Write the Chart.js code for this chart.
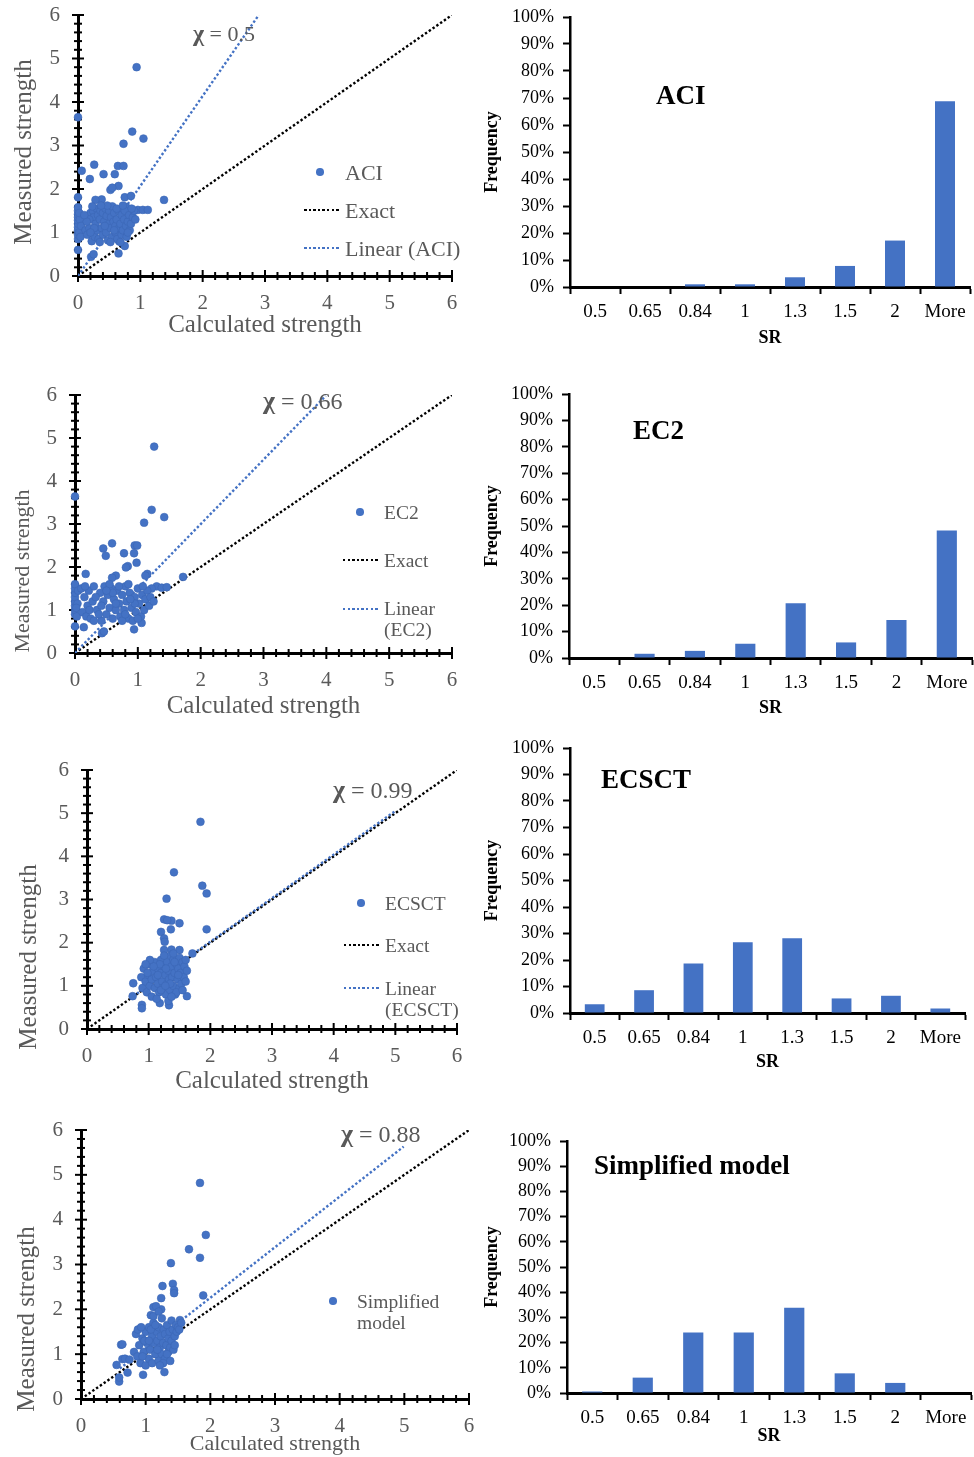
<!DOCTYPE html>
<html>
<head>
<meta charset="utf-8">
<script src="https://cdn.jsdelivr.net/npm/chart.js@4.4.0/dist/chart.umd.min.js"></script>
<style>
  html, body { margin:0; padding:0; background:#fff; }
  body { width:974px; height:1457px; position:relative; overflow:hidden; font-family:"Liberation Serif","Times New Roman",serif; }
  .box { position:absolute; }
  .t { position:absolute; white-space:nowrap; line-height:1; }
</style>
</head>
<body>
<script>
// ---------------- DATA ----------------
const srLabels = ['0.5','0.65','0.84','1','1.3','1.5','2','More'];
const aciFreq    = [0, 0, 1.0, 1.0, 3.6, 7.8, 17.2, 68.8];
const ec2Freq    = [0, 1.6, 2.7, 5.4, 20.7, 5.9, 14.4, 48.3];
const ecsctFreq  = [3.3, 8.6, 18.7, 26.7, 28.2, 5.5, 6.5, 1.7];
const simpFreq   = [0.6, 6.1, 24, 24, 33.8, 7.8, 4, 0];

const scatterTicks = [0,1,2,3,4,5,6];
const exactLine = [[0,0],[6,6]];
const aciTrend   = [[0,0],[2.9,6]];
const ec2Trend   = [[0,0],[3.99,5.98]];
const ecsctTrend = [[0.75,0.76],[5.0,5.05]];
const simpTrend  = [[0.6,0.68],[4.99,5.63]];
const chiValues  = ['0.5','0.66','0.99','0.88'];

const aciPts = [
 [0.94,4.80],[0,3.65],[0.87,3.32],[1.05,3.16],[0.73,3.04],[0.26,2.56],[0.64,2.53],[0.73,2.53],[0.06,2.42],[0.41,2.34],
 [0.59,2.34],[0.19,2.23],[0.65,2.07],[0.52,1.98],[0.55,2.03],[0,1.81],[0.75,1.81],[0.85,1.84],[1.38,1.75],[0.38,1.76],
 [0.28,1.75],[0.77,1.59],[0.96,1.52],[1.04,1.52],[1.12,1.52],[0,0.6],[0.21,0.44],[0.25,0.5],[0.65,0.52],[0.75,0.69],[0.66,0.8],
 [0,0.85],[0,0.95],[0,1.05],[0,1.12],[0,1.2],[0,1.28],[0,1.35],[0,1.42],[0,1.5],[0,1.58],[0.02,1.0],[0.03,1.3],[0.02,1.45],[0.04,0.9],[0.05,1.15],
 [0.12,1.05],[0.15,0.95],[0.18,1.1],[0.2,1.45],[0.22,0.8],[0.24,1.5],[0.25,1.35],[0.27,0.9],[0.28,1.2],[0.3,1.55],
 [0.3,1.05],[0.32,1.4],[0.33,0.85],[0.35,1.3],[0.36,1.5],[0.38,1.1],[0.4,0.95],[0.4,1.45],[0.42,1.25],[0.44,1.55],
 [0.45,1.0],[0.46,1.38],[0.48,0.82],[0.5,1.2],[0.5,1.5],[0.52,1.1],[0.53,1.35],[0.55,0.9],[0.55,1.6],[0.57,1.25],
 [0.58,1.45],[0.6,1.0],[0.6,1.15],[0.62,1.3],[0.63,0.85],[0.65,1.5],[0.66,1.1],[0.68,1.2],[0.7,0.95],[0.7,1.4],
 [0.72,1.05],[0.74,1.3],[0.75,1.5],[0.77,1.15],[0.78,0.9],[0.8,1.25],[0.82,1.4],[0.83,1.05],[0.85,1.2],[0.88,1.35],
 [0.9,1.5],[0.18,1.3],[0.23,1.6],[0.35,0.78],[0.43,1.15],[0.47,1.62],[0.62,1.55],[0.68,0.78],[0.8,1.0],[0.14,1.25],
 [0.26,1.1],[0.37,1.62],[0.52,0.78],[0.58,1.05],[0.72,1.62],[0.86,1.55],[0.92,1.3],[0.1,1.4],[0.2,1.0]
];
const ec2Pts = [
 [1.26,4.8],[0,3.64],[1.22,3.33],[1.10,3.03],[1.42,3.16],[0.59,2.55],[0.45,2.43],[0.95,2.5],[0.99,2.5],[0.78,2.32],
 [0.49,2.26],[0.94,2.32],[0.98,2.1],[0.84,2.02],[0.81,1.99],[0.17,1.84],[1.15,1.84],[1.12,1.8],[1.72,1.77],[0.65,1.8],
 [0.59,1.75],[0.94,0.55],[0.43,0.46],[0.46,0.5],[0,0.62],[0.14,0.6],[1.06,0.7],[1.3,1.55],[1.38,1.52],[1.46,1.53],[1.22,1.5],
 [0,0.9],[0,1.0],[0,1.1],[0,1.2],[0,1.3],[0,1.4],[0,1.5],[0,1.6],[0.03,0.85],[0.04,1.15],[0.05,1.45],[0.02,1.05],
 [0.1,1.5],[0.12,0.95],[0.15,1.3],[0.18,0.85],[0.2,1.1],[0.22,1.45],[0.25,0.8],[0.28,1.2],[0.3,1.55],[0.35,1.0],
 [0.4,1.4],[0.42,0.75],[0.45,1.2],[0.47,1.55],[0.5,0.9],[0.52,1.35],[0.55,1.05],[0.58,1.5],[0.6,0.8],[0.62,1.25],
 [0.65,1.0],[0.67,1.45],[0.7,1.15],[0.72,0.85],[0.75,1.35],[0.78,1.0],[0.8,1.55],[0.82,1.2],[0.85,0.8],[0.87,1.4],
 [0.9,1.05],[0.92,0.75],[0.95,1.3],[0.97,0.95],[1.0,1.5],[1.02,1.15],[1.05,0.85],[1.07,1.35],[1.1,1.0],[1.12,1.25],
 [1.15,1.45],[1.18,1.1],[1.2,1.3],[1.25,1.2],[0.33,1.3],[0.38,0.9],[0.55,1.6],[0.6,1.4],[0.7,1.55],[0.75,0.75],
 [0.85,1.6],[0.95,1.15],[1.0,0.8],[0.42,1.1],[0.23,1.0],[0.3,0.75],[0.65,1.15],[0.88,1.25],[1.08,1.55],[0.5,1.45],
 [0.16,1.55],[0.8,0.9]
];
const ecsctPts = [
 [1.84,4.8],[1.41,3.63],[1.87,3.32],[1.94,3.14],[1.29,3.02],[1.25,2.54],[1.37,2.51],[1.30,2.52],[1.5,2.45],[1.36,2.31],
 [1.94,2.31],[1.2,2.25],[1.25,2.1],[1.26,2.02],[1.25,1.83],[1.37,1.84],[1.5,1.83],[1.71,1.75],[0.75,1.06],[0.74,0.76],
 [0.89,0.56],[0.89,0.48],[1.18,0.6],[1.33,0.55],[1.62,0.76],
 [0.88,1.2],[0.9,0.95],[0.92,1.4],[0.95,1.1],[0.97,0.85],[1.0,1.25],[1.0,1.5],[1.02,1.0],[1.05,1.15],[1.05,0.75],
 [1.07,1.35],[1.1,0.95],[1.1,1.55],[1.12,1.2],[1.15,1.05],[1.15,1.4],[1.17,0.85],[1.2,1.3],[1.2,1.6],[1.22,1.1],
 [1.23,0.95],[1.25,1.45],[1.27,1.25],[1.28,0.8],[1.3,1.05],[1.3,1.55],[1.32,1.35],[1.33,1.15],[1.35,0.9],[1.35,1.7],
 [1.37,1.45],[1.38,1.2],[1.4,1.0],[1.4,1.6],[1.42,1.3],[1.43,0.8],[1.45,1.5],[1.47,1.15],[1.48,1.4],[1.5,1.65],
 [1.5,0.95],[1.52,1.3],[1.53,1.05],[1.55,1.55],[1.57,1.2],[1.58,1.45],[1.6,1.6],[1.62,1.35],[1.25,1.7],[1.18,1.5],
 [1.08,1.45],[0.98,1.3],[1.13,0.7],[1.45,0.85],[1.55,0.9],[1.35,1.05],[1.28,1.4],[1.4,1.75],[1.6,1.1],[1.2,0.9],
 [1.42,1.55],[1.02,1.6],[0.95,1.5],[1.32,0.65],[1.15,1.25],[1.27,1.0],[1.48,1.25],[1.37,0.75]
];
const simpPts = [
 [1.84,4.82],[1.93,3.66],[1.67,3.34],[1.84,3.15],[1.39,3.03],[1.26,2.52],[1.42,2.57],[1.44,2.43],[1.44,2.36],[1.89,2.31],
 [1.24,2.25],[1.12,2.05],[1.24,2.0],[1.16,2.07],[1.08,1.87],[1.53,1.76],[0.62,1.21],[0.64,1.22],[0.64,0.89],[0.55,0.76],
 [0.59,0.39],[0.59,0.48],[0.72,0.59],[0.96,0.54],[1.29,0.6],[0.68,0.9],[0.75,0.88],
 [0.82,1.05],[0.85,1.45],[0.87,0.95],[0.88,1.55],[0.9,1.2],[0.92,0.8],[0.95,1.35],[0.97,1.05],[1.0,1.5],[1.0,0.75],
 [1.02,1.25],[1.05,1.6],[1.05,0.9],[1.07,1.1],[1.1,1.4],[1.1,0.8],[1.12,1.7],[1.13,1.25],[1.15,1.0],[1.17,1.5],
 [1.18,1.3],[1.2,0.85],[1.2,1.6],[1.22,1.15],[1.23,1.4],[1.25,1.8],[1.25,1.0],[1.27,1.25],[1.28,1.55],[1.3,0.9],
 [1.3,1.45],[1.32,1.2],[1.33,1.65],[1.35,1.05],[1.35,1.35],[1.37,1.5],[1.38,1.15],[1.4,1.75],[1.4,1.3],[1.42,1.55],
 [1.43,1.1],[1.45,1.4],[1.47,1.65],[1.48,1.5],[1.5,1.6],[1.52,1.55],[1.55,1.7],[1.12,1.85],[1.2,1.95],[0.98,1.3],
 [1.08,1.55],[1.15,1.65],[1.27,0.8],[0.93,1.6],[1.05,1.3],[1.18,1.1],[1.33,1.0],[1.38,0.85],[0.95,0.95],[1.22,0.75],[1.45,1.2]
];

// ---------------- HELPERS ----------------
const SERIF = '"Liberation Serif","Times New Roman",serif';
const GRAY = '#595959';
const BLUE = '#4472C4';
Chart.defaults.font.family = SERIF;

function toXY(a) { return a.map(p => ({x:p[0], y:p[1]})); }

function makeCanvas(left, top, w, h) {
  const d = document.createElement('div');
  d.className = 'box';
  d.style.left = left + 'px'; d.style.top = top + 'px';
  d.style.width = w + 'px'; d.style.height = h + 'px';
  const c = document.createElement('canvas');
  c.width = w; c.height = h;
  c.style.width = w + 'px'; c.style.height = h + 'px';
  d.appendChild(c);
  document.body.appendChild(d);
  return c;
}

function text(s, x, y, size, opt) {
  opt = opt || {};
  const d = document.createElement('div');
  d.className = 't';
  d.textContent = s;
  d.style.left = x + 'px'; d.style.top = y + 'px';
  d.style.fontSize = size + 'px';
  d.style.color = opt.color || GRAY;
  d.style.fontWeight = opt.bold ? 'bold' : 'normal';
  d.style.transform = opt.rotate ? 'translate(-50%,-50%) rotate(-90deg)' : 'translateY(-50%)';
  d.style.zIndex = 5;
  document.body.appendChild(d);
  return d;
}
function chi(value, x, y, size) {
  const d = text('', x, y, size);
  const b = document.createElement('b'); b.textContent = 'χ';
  b.style.fontSize = (size + 2) + 'px';
  d.appendChild(b);
  d.appendChild(document.createTextNode(' = ' + value));
}
function dotted(x1, x2, y, color) {
  const d = document.createElement('div');
  d.style.cssText = `position:absolute;left:${x1}px;top:${y-1.25}px;width:${x2-x1}px;height:2.5px;` +
    `background:repeating-linear-gradient(to right, ${color} 0 2.5px, transparent 2.5px 4.6px);z-index:5;`;
  document.body.appendChild(d);
}
function dot(x, y) {
  const d = document.createElement('div');
  d.style.cssText = `position:absolute;left:${x-3.8}px;top:${y-3.8}px;width:7.6px;height:7.6px;border-radius:50%;background:${BLUE};z-index:5;`;
  document.body.appendChild(d);
}

const minorTicks = {
  id: 'minorTicks',
  beforeDatasetsDraw(chart) {
    const {ctx} = chart; const xs = chart.scales.x, ys = chart.scales.y;
    ctx.save(); ctx.strokeStyle = '#000'; ctx.lineWidth = 2;
    for (let k = 0; k <= 30; k++) {
      const v = k * 0.2; const L = (k % 5 === 0) ? 6 : 4;
      const px = xs.getPixelForValue(v);
      ctx.beginPath(); ctx.moveTo(px, ys.bottom - L); ctx.lineTo(px, ys.bottom + L); ctx.stroke();
      const py = ys.getPixelForValue(v);
      ctx.beginPath(); ctx.moveTo(xs.left - L, py); ctx.lineTo(xs.left + L, py); ctx.stroke();
    }
    ctx.restore();
  }
};

function fixer(w, h) {
  return function (s) {
    if (w !== null) s.width = w;
    if (h !== null) s.height = h;
    s.paddingLeft = 0; s.paddingRight = 0; s.paddingTop = 0; s.paddingBottom = 0;
  };
}

function scatter(g, pts, trend, name) {
  const W = 500;
  const c = makeCanvas(0, g.top, W, g.h);
  new Chart(c, {
    type: 'scatter',
    data: { datasets: [
      { label: name, data: toXY(pts), backgroundColor: BLUE, borderColor: '#3B66B5', borderWidth: 0.6,
        pointRadius: 3.9, clip: false, order: 0 },
      { type: 'line', label: 'Linear', data: toXY(trend), borderColor: BLUE, borderWidth: 2.4,
        borderDash: [2.4, 2.2], pointRadius: 0, fill: false, order: 1 },
      { type: 'line', label: 'Exact', data: toXY(exactLine), borderColor: '#000', borderWidth: 2.4,
        borderDash: [2.4, 2.2], pointRadius: 0, fill: false, order: 2 }
    ]},
    options: {
      responsive: false, animation: false, events: [],
      layout: { padding: { left: 0, top: g.t - g.top, right: W - g.r, bottom: 0 } },
      plugins: { legend: { display: false }, tooltip: { enabled: false } },
      scales: {
        x: { type: 'linear', min: 0, max: 6,
          afterBuildTicks: s => { s.ticks = scatterTicks.map(v => ({value: v})); },
          ticks: { color: GRAY, font: { size: 21 }, padding: 15, maxRotation: 0 },
          grid: { display: false, drawTicks: false },
          border: { display: true, color: '#000', width: 3 },
          title: { display: true, text: 'Calculated strength', color: GRAY, font: { size: g.xts },
                   padding: { top: 0, bottom: g.xtp } },
          afterFit: fixer(null, g.top + g.h - g.b) },
        y: { type: 'linear', min: 0, max: 6,
          afterBuildTicks: s => { s.ticks = scatterTicks.map(v => ({value: v})); },
          ticks: { color: GRAY, font: { size: 21 }, padding: 18 },
          grid: { display: false, drawTicks: false },
          border: { display: true, color: '#000', width: 3 },
          afterFit: fixer(g.l, null) }
      }
    },
    plugins: [minorTicks]
  });
}

function bars(g, freq) {
  const L = 480, W = 494;
  const c = makeCanvas(L, g.top, W, g.h);
  new Chart(c, {
    type: 'bar',
    data: { labels: srLabels, datasets: [{ data: freq, backgroundColor: BLUE, borderWidth: 0,
      barPercentage: 0.4, categoryPercentage: 1 }] },
    options: {
      responsive: false, animation: false, events: [],
      layout: { padding: { left: 0, top: g.t - g.top, right: L + W - g.r, bottom: 0 } },
      plugins: { legend: { display: false }, tooltip: { enabled: false } },
      scales: {
        x: { grid: { display: true, drawOnChartArea: false, drawTicks: true, tickLength: 7, tickWidth: 2,
                     tickColor: '#000', color: '#000', offset: true },
             border: { display: true, color: '#000', width: 3 },
             ticks: { color: '#000', font: { size: 19 }, padding: 7, maxRotation: 0, autoSkip: false },
             title: { display: true, text: 'SR', color: '#000', font: { size: 18, weight: 'bold' },
                      padding: { top: 0, bottom: g.xtp } },
             afterFit: fixer(null, g.top + g.h - g.b) },
        y: { min: 0, max: 100,
             ticks: { stepSize: 10, color: '#000', font: { size: 18 }, padding: 9, callback: v => v + '%' },
             grid: { display: true, drawOnChartArea: false, drawTicks: true, tickLength: 7, tickWidth: 2,
                     tickColor: '#000', color: '#000' },
             border: { display: true, color: '#000', width: 2.5 },
             title: { display: true, text: 'Frequency', color: '#000', font: { size: 18, weight: 'bold' },
                      padding: { top: 2, bottom: 0 } },
             afterFit: fixer(g.l - L, null) }
      }
    }
  });
}

// ---------------- SCATTER PANELS ----------------
scatter({top: 0,    h: 345, l: 78, t: 15,   r: 452, b: 276,  xts: 25, xtp: 5}, aciPts, aciTrend, 'ACI');
scatter({top: 380,  h: 345, l: 75, t: 395,  r: 452, b: 653,  xts: 25, xtp: 4}, ec2Pts, ec2Trend, 'EC2');
scatter({top: 755,  h: 345, l: 87, t: 770,  r: 457, b: 1029, xts: 25, xtp: 4}, ecsctPts, ecsctTrend, 'ECSCT');
scatter({top: 1112, h: 345, l: 81, t: 1130, r: 469, b: 1399, xts: 22, xtp: 0}, simpPts, simpTrend, 'Simplified model');

// ---------------- BAR PANELS ----------------
bars({top: 0,    h: 350, l: 570, t: 17,   r: 970, b: 287,  xtp: 1}, aciFreq);
bars({top: 375,  h: 350, l: 569, t: 394,  r: 972, b: 658,  xtp: 6}, ec2Freq);
bars({top: 730,  h: 350, l: 570, t: 748,  r: 965, b: 1013, xtp: 7}, ecsctFreq);
bars({top: 1120, h: 337, l: 567, t: 1141, r: 971, b: 1393, xtp: 10}, simpFreq);

// ---------------- ANNOTATIONS ----------------
text('Measured strength', 22, 152, 25, {rotate: true});
text('Measured strength', 22, 571, 22, {rotate: true});
text('Measured strength', 27, 957, 25, {rotate: true});
text('Measured strength', 25, 1319, 25, {rotate: true});

chi(chiValues[0], 193, 33, 22);
chi(chiValues[1], 263, 401, 24);
chi(chiValues[2], 333, 790, 24);
chi(chiValues[3], 341, 1134, 24);

// legend ACI
dot(320, 172); text('ACI', 345, 173, 22);
dotted(304, 340, 210, '#000'); text('Exact', 345, 211, 22);
dotted(304, 340, 248, BLUE); text('Linear (ACI)', 345, 249, 22);
// legend EC2
dot(360, 512); text('EC2', 384, 513, 19.5);
dotted(343, 380, 560, '#000'); text('Exact', 384, 561, 19.5);
dotted(343, 380, 609, BLUE); text('Linear', 384, 609, 19.5); text('(EC2)', 384, 630, 19.5);
// legend ECSCT
dot(361, 903); text('ECSCT', 385, 904, 19.5);
dotted(344, 381, 945, '#000'); text('Exact', 385, 946, 19.5);
dotted(344, 381, 988, BLUE); text('Linear', 385, 989, 19.5); text('(ECSCT)', 385, 1010, 19.5);
// legend simplified
dot(333, 1301); text('Simplified', 357, 1302, 19.5); text('model', 357, 1323, 19.5);

// bar titles
text('ACI', 656, 95, 27, {bold: true, color: '#000'});
text('EC2', 633, 430, 27, {bold: true, color: '#000'});
text('ECSCT', 601, 779, 27, {bold: true, color: '#000'});
text('Simplified model', 594, 1165, 27, {bold: true, color: '#000'});
</script>
</body>
</html>
